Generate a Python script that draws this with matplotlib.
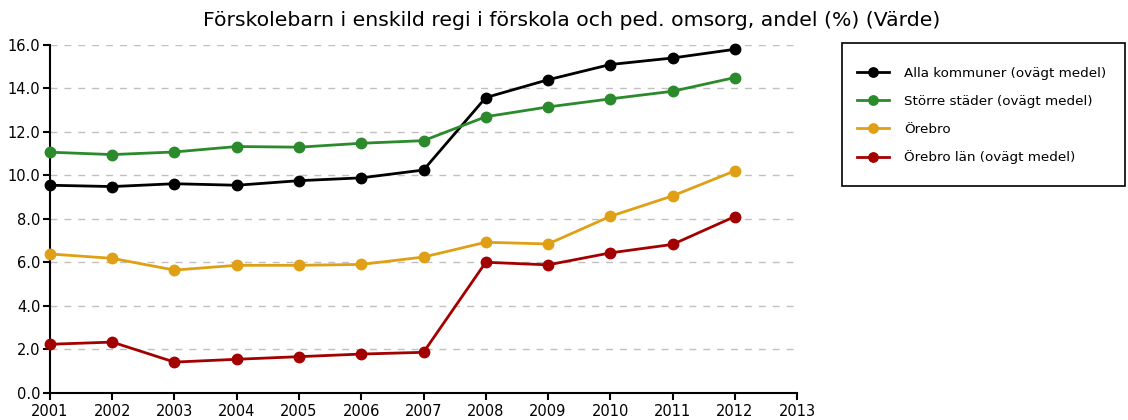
import matplotlib
matplotlib.use("Agg")
import matplotlib.pyplot as plt
from matplotlib.patches import Rectangle

years = [2001, 2002, 2003, 2004, 2005, 2006, 2007, 2008, 2009, 2010, 2011, 2012]
alla = [9.55, 9.49, 9.62, 9.55, 9.76, 9.89, 10.25, 13.58, 14.40, 15.10, 15.40, 15.80]
storre = [11.07, 10.96, 11.08, 11.33, 11.30, 11.48, 11.60, 12.70, 13.15, 13.52, 13.87, 14.50]
orebro = [6.39, 6.19, 5.65, 5.87, 5.87, 5.91, 6.25, 6.93, 6.85, 8.12, 9.06, 10.21]
orebro_lan = [2.24, 2.34, 1.42, 1.55, 1.67, 1.79, 1.87, 6.01, 5.89, 6.44, 6.83, 8.11]

series_names = ["Alla kommuner (ovägt medel)", "Större städer (ovägt medel)", "Örebro", "Örebro län (ovägt medel)"]
colors = ["#000000", "#2b8a2b", "#e0a015", "#a30000"]
xticks = list(range(2001, 2014))
yticks = [0, 2, 4, 6, 8, 10, 12, 14, 16]

W, H = 1128, 420
fig = plt.figure(figsize=(W / 100, H / 100), dpi=100)
ax = fig.add_axes([0.0443, 0.0643, 0.7066 - 0.0443, 0.893 - 0.0643])

handles = []
for data, name, c in zip([alla, storre, orebro, orebro_lan], series_names, colors):
    h, = ax.plot(years, data, color=c, lw=2, marker="o", markersize=7.5, label=name, clip_on=False, zorder=3)
    handles.append(h)

ax.set_xlim(2001, 2013)
ax.set_ylim(0, 16)
ax.set_xticks(xticks)
ax.set_xticklabels([str(x) for x in xticks])
ax.set_yticks(yticks)
ax.set_yticklabels([f"{y:.1f}" for y in yticks])
ax.grid(axis="y", color="#c0c0c0", linestyle=(0, (5, 5)), lw=1)
ax.set_axisbelow(True)
for s in ["top", "right"]:
    ax.spines[s].set_visible(False)
for s in ["left", "bottom"]:
    ax.spines[s].set_color("black")
    ax.spines[s].set_linewidth(1.5)
ax.tick_params(axis="both", labelsize=10.5, colors="black", length=5, width=1.5, pad=2)
ax.tick_params(axis="x", pad=3)

fig.text(0.507, 0.95, "Förskolebarn i enskild regi i förskola och ped. omsorg, andel (%) (Värde)",
         ha="center", va="center", fontsize=14.7)

# legend frame
fig.patches.append(Rectangle((842 / W, 1 - 186 / H), (1125 - 842) / W, (186 - 43) / H,
                             transform=fig.transFigure, fill=False, edgecolor="black", lw=1.2))
leg = fig.legend(handles=handles, loc="upper left", bbox_to_anchor=(857 / W, 1 - 67 / H),
                 frameon=False, fontsize=9.7, handlelength=2.4, labelspacing=1.1,
                 borderpad=0, borderaxespad=0, handletextpad=1.1, markerscale=0.9)

fig.savefig("out.png", dpi=100)
